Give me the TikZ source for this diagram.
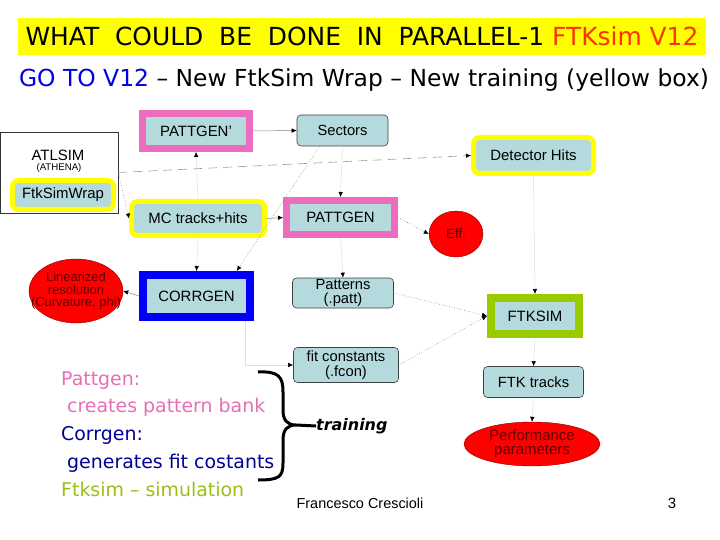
\documentclass[tikz,border=0pt]{standalone}
\usepackage{fontspec}
\setmainfont{Liberation Sans}
\newfontfamily\comicfont{DejaVu Sans}
\usepackage{xcolor}
\usetikzlibrary{arrows.meta,positioning,calc,shapes.geometric}
\definecolor{boxteal}{RGB}{180,218,222}
\definecolor{pinkb}{RGB}{238,108,190}
\definecolor{yell}{RGB}{255,255,0}
\definecolor{blueb}{RGB}{0,0,250}
\definecolor{greenb}{RGB}{153,204,0}
\definecolor{redf}{RGB}{255,0,0}
\definecolor{darkred}{RGB}{95,0,0}
\definecolor{pinkt}{RGB}{232,110,180}
\definecolor{navyt}{RGB}{0,0,150}
\definecolor{limet}{RGB}{155,190,20}
\definecolor{ttlred}{RGB}{255,51,0}
\definecolor{ttlblue}{RGB}{0,0,230}

\begin{document}
\begin{tikzpicture}[x=1bp,y=-1bp,
  every node/.style={font=\fontsize{15}{15}\selectfont},
  bx/.style={rectangle,fill=boxteal,inner sep=0pt,align=center},
  pinkbx/.style={bx,draw=pinkb,line width=7bp},
  yelbx/.style={bx,draw=yell,line width=5bp,rounded corners=6bp},
  bluebx/.style={bx,draw=blueb,line width=8bp},
  greenbx/.style={bx,draw=greenb,line width=8bp},
  plainbx/.style={bx,draw=black!75,line width=0.6bp,rounded corners=4bp,font=\fontsize{14.8}{14.5}\selectfont},
  ell/.style={ellipse,fill=redf,draw=red!55!black,line width=0.4bp,inner sep=0pt,text=darkred,align=center},
  cmc/.style={inner sep=0pt,anchor=base west,font=\comicfont\fontsize{19}{20}\selectfont},
  tip/.style={-{Latex[length=5bp,width=4.5bp,color=black]}},
  lnk/.style={tip,draw=gray,line width=0.5bp},
  faint/.style={tip,draw=gray!25,line width=0.5bp},
  dots/.style={tip,draw=gray,line width=0.6bp,dotted},
  dashes/.style={tip,draw=gray!80,line width=0.6bp,dash pattern=on 9bp off 6bp}]
 \useasboundingbox (0,0) rectangle (720,540);
 \node[fill=yell,minimum width=688bp,minimum height=37bp,inner sep=0pt,font=\comicfont\fontsize{25}{26}\selectfont] (ttl) at (362,36.5)
   {WHAT~ COULD~ BE~ DONE~ IN~ PARALLEL-1 \textcolor{ttlred}{FTKsim V12}};
 \node[font=\comicfont\fontsize{23.5}{25}\selectfont] (sub) at (364,80)
   {\textcolor{ttlblue}{GO TO V12} – New FtkSim Wrap – New training (yellow box)};
 \node[draw=black!80,line width=0.6bp,minimum width=118bp,minimum height=81bp,inner sep=0pt] (atl) at (59,172.5) {};
 \node (atlname) at (58,155) {ATLSIM};
 \node[font=\fontsize{9.7}{10}\selectfont] (athena) at (59,168) {(ATHENA)};
 \node[yelbx,minimum width=101bp,minimum height=29bp] (wrap) at (63,195) {FtkSimWrap};
 \node[pinkbx,minimum width=107bp,minimum height=35bp] (pgA) at (196,131) {PATTGEN’};
 \node[plainbx,minimum width=91bp,minimum height=31bp] (sect) at (342.5,130.5) {Sectors};
 \node[yelbx,minimum width=120bp,minimum height=36bp] (dhits) at (533.5,155.5) {Detector Hits};
 \node[yelbx,minimum width=133bp,minimum height=34bp] (mc) at (198,218.5) {MC tracks+hits};
 \node[pinkbx,minimum width=108bp,minimum height=34bp] (pg) at (340.5,217.5) {PATTGEN};
 \node[ell,minimum width=54bp,minimum height=46bp,font=\fontsize{13.5}{14}\selectfont] (eff) at (456,234) {Eff.};
 \node[ell,minimum width=94bp,minimum height=64bp,inner xsep=-12bp,inner ysep=3bp,font=\fontsize{13}{12.5}\selectfont] (linres) at (76,291)
   {Linearized\\resolution\\(Curvature, phi)};
 \node[bluebx,minimum width=107bp,minimum height=42bp] (corr) at (196.5,296) {CORRGEN};
 \node[plainbx,minimum width=101bp,minimum height=30bp] (patt) at (343,293) {Patterns\\(.patt)};
 \node[greenbx,minimum width=88bp,minimum height=36bp] (fsim) at (535,316) {FTKSIM};
 \node[plainbx,minimum width=105bp,minimum height=35bp] (fcon) at (346,365) {fit constants\\(.fcon)};
 \node[plainbx,minimum width=100bp,minimum height=31bp] (ftrk) at (533.5,382) {FTK tracks};
 \node[ell,minimum width=136bp,minimum height=44bp,font=\fontsize{15}{14}\selectfont] (perf) at (532,444) {Performance\\parameters};
 \node[cmc,text=pinkt] (l1) at (61,385) {Pattgen:};
 \node[cmc,text=pinkt] (l2) at (67,412) {creates pattern bank};
 \node[cmc,text=navyt] (l3) at (61,440) {Corrgen:};
 \node[cmc,text=navyt] (l4) at (67,468) {generates fit costants};
 \node[cmc,text=limet] (l5) at (61,496) {Ftksim – simulation};
 \node[inner sep=0pt,anchor=west,font=\comicfont\bfseries\itshape\fontsize{16}{18}\selectfont] (trn) at (316,426) {training};
 \node[font=\fontsize{14.5}{15}\selectfont] (auth) at (360,503) {Francesco Crescioli};
 \node (pgno) at (672,503) {3};
 \coordinate (brtip) at (296,425);
 \draw[line width=3bp] (258,372) .. controls (279,371) and (283,377) .. (283,392) -- (283,410)
   .. controls (283,420) and (287,425) .. (brtip) .. controls (287,425) and (283,430) .. (283,440)
   -- (283,463) .. controls (283,477) and (279,480) .. (258,480);
 \draw[line width=3bp] (brtip) -- (trn.west);
 \foreach \a/\b in {pgA/sect,mc/pg}
   \draw[lnk] (\a.east) -- (\b.west);
 \draw[lnk] (corr.west) -- (linres.east);
 \foreach \a/\b in {sect/pg,pg/patt,dhits/fsim,fsim/ftrk,ftrk/perf,mc/corr}
   \draw[faint] (\a.south) -- (\b.north);
 \draw[faint] (mc.north) -- (pgA.south);
 \draw[faint] ($(corr.south)!0.85!(corr.south east)$) |- (fcon.west);
 \draw[dashes] (atl.east) -- (dhits.west);
 \draw[dots] (atl.east) -- (mc.west);
 \draw[dots] ($(sect.south)!0.5!(sect.south west)$) -- ($(corr.north)!0.7!(corr.north east)$);
 \foreach \a/\b in {pg/eff,patt/fsim,fcon/fsim}
   \draw[dots] (\a.east) -- (\b.west);
\end{tikzpicture}
\end{document}
